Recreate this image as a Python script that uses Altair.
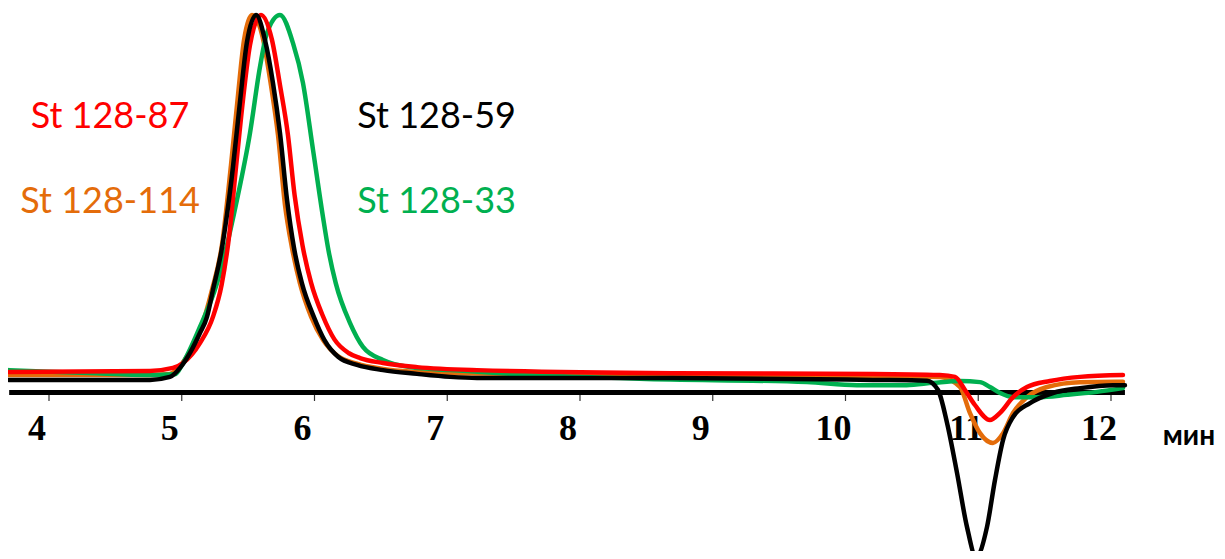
import altair as alt
import pandas as pd

# ---- data (time in minutes, signal in arbitrary units, peak = 100) ----
t_black = [3.70, 4.38, 4.761, 4.911, 4.987, 5.062, 5.137, 5.19, 5.235, 5.30, 5.386, 5.44, 5.49,
           5.56, 5.627, 5.687, 5.74, 5.793, 5.845, 5.905, 5.995, 6.075, 6.18, 6.32, 6.516, 6.772,
           7.021, 7.224, 8.70, 10.207, 10.614, 10.697, 10.765, 10.84, 10.915, 10.983, 11.066,
           11.126, 11.187, 11.262, 11.39, 11.563, 11.767, 12.015, 12.105]
v_black = [2.7, 2.7, 2.7, 3.5, 5.9, 9.9, 15.2, 19.5, 26.7, 37.3, 59.5, 77.3, 92.5,
           100, 93.3, 81.9, 68.5, 50.7, 38.0, 28.5, 19.5, 13.3, 8.8, 6.7, 5.3, 4.3,
           3.5, 3.2, 3.2, 2.7, 2.5, 0.0, -8.8, -22.1, -36.5, -44.5, -36.5,
           -24.0, -13.3, -7.2, -3.5, -0.8, 0.5, 1.3, 1.3]

t_orange = [3.70, 4.761, 4.911, 4.987, 5.062, 5.137, 5.228, 5.303, 5.371, 5.424, 5.469, 5.529,
            5.605, 5.672, 5.725, 5.778, 5.83, 5.89, 5.975, 6.065, 6.17, 6.32, 6.516, 6.772,
            6.945, 8.70, 10.207, 10.712, 10.862, 10.937, 11.013, 11.111, 11.187, 11.262, 11.367,
            11.518, 11.767, 12.09]
v_orange = [4.0, 4.0, 4.3, 6.4, 10.4, 15.7, 26.7, 38.7, 60.0, 78.7, 93.3, 100,
            94.7, 81.3, 68.0, 49.3, 38.0, 28.5, 19.5, 13.3, 9.2, 7.0, 5.6, 4.8,
            4.5, 4.0, 3.7, 3.5, 0.8, -6.1, -11.5, -14.1, -11.5, -6.1, -1.9,
            0.8, 2.1, 2.2]

t_red = [3.70, 4.761, 4.934, 5.009, 5.137, 5.235, 5.30, 5.36, 5.409, 5.461, 5.514, 5.597, 5.68,
         5.74, 5.80, 5.85, 5.91, 5.975, 6.06, 6.15, 6.26, 6.343, 6.516, 6.772, 7.224, 8.70,
         10.207, 10.71, 10.825, 10.9, 10.975, 11.088, 11.164, 11.262, 11.367, 11.54, 11.767,
         12.09]
v_red = [4.8, 5.1, 5.9, 7.2, 12.5, 19.5, 28.0, 42.0, 59.5, 77.3, 92.0, 100, 93.3,
         81.3, 68.0, 52.0, 38.5, 28.5, 20.0, 13.5, 9.8, 8.5, 7.2, 6.1, 5.3, 4.5,
         4.3, 4.0, 3.5, 0.0, -4.0, -8.0, -6.1, -1.9, 0.8, 2.4, 3.5,
         4.0]

t_green = [3.70, 4.3, 4.761, 4.949, 5.009, 5.137, 5.266, 5.416, 5.514, 5.589, 5.642, 5.74, 5.838,
           5.913, 5.989, 6.064, 6.105, 6.16, 6.267, 6.365, 6.516, 6.719, 7.021, 7.5, 8.45,
           9.71, 10.086, 10.46, 10.66, 10.862, 11.013, 11.088, 11.164, 11.262, 11.45, 11.669,
           11.895, 12.09]
v_green = [5.3, 4.5, 4.0, 4.2, 7.2, 16.8, 28.5, 50.7, 68.5, 86.1, 95.2, 100, 92.5,
           81.9, 64.0, 46.1, 37.3, 28.5, 17.9, 11.5, 8.0, 6.1, 5.3, 4.3, 3.0,
           2.1, 1.3, 1.3, 1.9, 2.4, 2.1, 0.8, -0.8, -1.9, -1.9, -1.3,
           -0.5, 0.5]

series_names = ["St 128-114", "St 128-33", "St 128-87", "St 128-59"]
series_colors = ["#E46C0A", "#00B050", "#FF0000", "#000000"]
series_t = [t_orange, t_green, t_red, t_black]
series_v = [v_orange, v_green, v_red, v_black]

tick_values = [4, 5, 6, 7, 8, 9, 10, 11, 12]
axis_start, axis_end = 3.70, 12.105
unit_label = "мин"

# legend label anchors (data coordinates)
label_t = [4.46, 4.46, 6.92, 6.92]
label_v = [69.9, 47.2, 69.9, 47.2]
label_names = ["St 128-87", "St 128-114", "St 128-59", "St 128-33"]
label_colors = ["#FF0000", "#E46C0A", "#000000", "#00B050"]

XS = alt.Scale(domain=[3.69115, 12.79849], nice=False, zero=False)
YS = alt.Scale(domain=[-42.933, 101.867], nice=False, zero=False)


def X(field="t"):
    return alt.X(f"{field}:Q", scale=XS, axis=None)


def Y(field="v"):
    return alt.Y(f"{field}:Q", scale=YS, axis=None)


axis_df = pd.DataFrame({"t": [axis_start], "t2": [axis_end], "v": [-0.67]})
axis_line = alt.Chart(axis_df).mark_rule(color="black", strokeWidth=5).encode(
    x=X(), x2="t2:Q", y=Y()
)

ticks = pd.DataFrame({"t": tick_values, "lab": [str(x) for x in tick_values],
                      "v": [-1.3] * len(tick_values), "v2": [-2.93] * len(tick_values),
                      "v0": [0.0] * len(tick_values)})
tick_marks = alt.Chart(ticks).mark_rule(color="#333333", strokeWidth=1.2).encode(
    x=X(), y=Y(), y2="v2:Q"
)
tick_labels = alt.Chart(ticks).mark_text(
    font="Liberation Serif", fontWeight="bold", fontSize=36, color="black",
    align="center", baseline="alphabetic", dx=-12, dy=50
).encode(x=X(), y=Y("v0"), text="lab:N")

unit_df = pd.DataFrame({"t": [12.39], "v": [0.0], "s": [unit_label]})
unit_text = alt.Chart(unit_df).mark_text(
    font="Lato", fontWeight="bold", fontSize=28, color="black",
    align="left", baseline="alphabetic", dy=55
).encode(x=X(), y=Y(), text="s:N")

layers = [axis_line, tick_marks, tick_labels, unit_text]
for name, col, ts, vs in zip(series_names, series_colors, series_t, series_v):
    df = pd.DataFrame({"t": ts, "v": vs, "i": list(range(len(ts)))})
    layers.append(
        alt.Chart(df).mark_line(
            color=col, strokeWidth=4.5, interpolate="monotone",
            strokeJoin="round", strokeCap="round"
        ).encode(x=X(), y=Y(), order="i:Q")
    )

for t, v, txt, col in zip(label_t, label_v, label_names, label_colors):
    df = pd.DataFrame({"t": [t], "v": [v], "text": [txt]})
    layers.append(
        alt.Chart(df).mark_text(
            font="Lato", fontSize=36, align="center", baseline="alphabetic", color=col
        ).encode(x=X(), y=Y(), text="text:N")
    )

chart = alt.layer(*layers).properties(
    width=1209, height=543, autosize=alt.AutoSizeParams(type="none"), padding=0,
    background="white"
).configure_view(stroke=None)

chart.save("out.html", embed_options={"renderer": "svg", "actions": False})
